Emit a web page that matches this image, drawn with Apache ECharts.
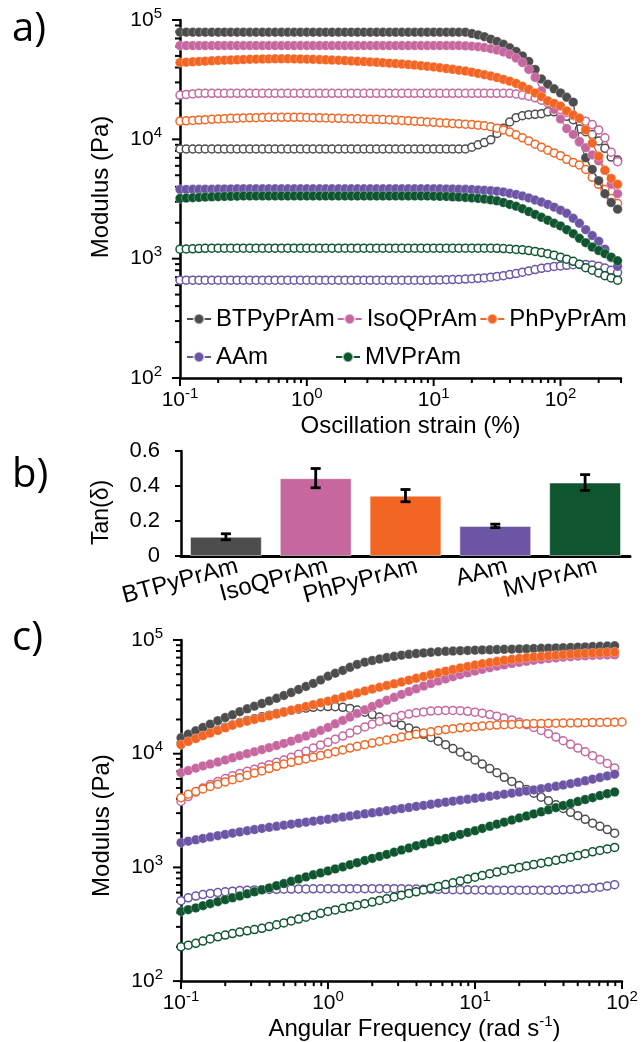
<!DOCTYPE html>
<html><head><meta charset="utf-8">
<script src="https://cdn.jsdelivr.net/npm/echarts@6/dist/echarts.min.js"></script>
<style>html,body{margin:0;padding:0;background:#fff}#c{width:643px;height:1042px}</style>
</head><body><div id="c"></div>
<script>
// ---------- data ----------
const strain = [0.1,0.112,0.126,0.141,0.158,0.178,0.2,0.224,0.251,0.282,
 0.316,0.355,0.398,0.447,0.501,0.562,0.631,0.708,0.794,0.891,
 1,1.12,1.26,1.41,1.58,1.78,2,2.24,2.51,2.82,
 3.16,3.55,3.98,4.47,5.01,5.62,6.31,7.08,7.94,8.91,
 10,11.2,12.6,14.1,15.8,17.8,20,22.4,25.1,28.2,
 31.6,35.5,39.8,44.7,50.1,56.2,63.1,70.8,79.4,89.1,
 100,112,126,141,158,178,200,224,251,282];
const freq = [0.1,0.112,0.126,0.141,0.158,0.178,0.2,0.224,0.251,0.282,
 0.316,0.355,0.398,0.447,0.501,0.562,0.631,0.708,0.794,0.891,
 1,1.12,1.26,1.41,1.58,1.78,2,2.24,2.51,2.82,
 3.16,3.55,3.98,4.47,5.01,5.62,6.31,7.08,7.94,8.91,
 10,11.2,12.6,14.1,15.8,17.8,20,22.4,25.1,28.2,
 31.6,35.5,39.8,44.7,50.1,56.2,63.1,70.8,79.4,89.1,100];

// panel a: G' (filled) and G'' (open) vs strain
const aBT1 = [79000,79000,79000,79000,79000,79000,79000,79000,79000,79000,
 79000,79000,79000,79000,79000,79000,79000,79000,79000,79000,
 79000,79000,79000,79000,79000,79000,79000,79000,79000,79000,
 79000,79000,79000,79000,79000,79000,79000,79000,79000,79000,
 79000,79000,79000,79000,79000,79000,77000,75000,72500,69000,
 66000,62500,58500,54500,50000,45000,38500,32000,29000,26500,
 24500,22500,20500,9500,7000,5600,4500,3500,2950,2600];
const aIso1 = [61000,61000,61000,61000,61000,61000,61000,61000,61000,61000,
 61000,61000,61000,61000,61000,61000,61000,61000,61000,61000,
 61000,61000,61000,61000,61000,61000,61000,61000,61000,61000,
 61000,61000,61000,61000,61000,61000,61000,61000,61000,61000,
 61000,61000,61000,61000,61000,60700,60300,59700,58800,57500,
 56000,54000,51500,48000,44000,38500,33000,25500,21000,17800,
 14800,12300,11000,9600,8500,7400,6600,5500,4200,3500];
const aPh1 = [44000,44300,44600,44900,45200,45500,45800,46000,46200,46400,
 46600,46800,47000,47100,47200,47300,47300,47300,47200,47100,
 47000,46800,46600,46400,46200,46000,45700,45400,45100,44800,
 44500,44200,43900,43500,43100,42700,42300,41900,41400,40900,
 40400,39800,39200,38600,38000,37300,36500,35700,34800,33900,
 32900,31800,30700,29400,27800,26200,24500,22800,21000,20000,
 19000,17300,16000,15000,12000,9300,7200,5500,4700,4200];
const aAAm1 = [3800,3805,3810,3815,3820,3825,3830,3835,3840,3845,
 3850,3850,3850,3850,3850,3850,3850,3850,3850,3850,
 3850,3850,3850,3850,3850,3850,3850,3850,3850,3850,
 3850,3850,3850,3850,3850,3850,3850,3850,3850,3850,
 3850,3845,3840,3830,3820,3810,3790,3770,3740,3710,
 3680,3620,3530,3450,3350,3230,3100,2980,2850,2700,
 2550,2400,2180,1980,1750,1560,1400,1200,1020,860];
const aMV1 = [3200,3220,3240,3260,3280,3300,3310,3320,3330,3340,
 3350,3350,3350,3350,3350,3350,3350,3350,3350,3350,
 3350,3350,3350,3350,3350,3350,3350,3350,3350,3350,
 3350,3350,3350,3350,3350,3350,3350,3350,3350,3350,
 3340,3330,3320,3300,3280,3260,3230,3200,3160,3110,
 3050,2950,2850,2750,2620,2480,2350,2220,2100,1980,
 1880,1750,1620,1480,1360,1250,1170,1100,1030,960];
const aBT2 = [8300,8300,8300,8300,8300,8300,8300,8300,8300,8300,
 8300,8300,8300,8300,8300,8300,8300,8300,8300,8300,
 8300,8300,8300,8300,8300,8300,8300,8300,8300,8300,
 8300,8300,8300,8300,8300,8300,8300,8300,8300,8300,
 8300,8300,8300,8300,8300,8300,8600,9000,9400,9900,
 11200,12400,14000,15200,15800,16100,16200,16400,17000,17000,
 16500,15600,14600,12200,11600,11000,9700,8400,7100,6700];
const aIso2 = [23500,23800,24000,24300,24300,24300,24300,24300,24300,24300,
 24300,24300,24300,24300,24300,24300,24300,24300,24300,24300,
 24300,24300,24300,24300,24300,24300,24300,24300,24300,24300,
 24300,24300,24300,24300,24300,24300,24300,24300,24300,24300,
 24300,24300,24300,24300,24300,24300,24300,24300,24300,24300,
 24300,24300,24300,24000,23500,23000,22300,21300,20200,19000,
 17800,16800,15800,15000,14200,13300,12000,10300,7800,6500];
const aPh2 = [14200,14300,14400,14500,14600,14700,14800,14900,15000,15050,
 15100,15150,15200,15250,15300,15300,15300,15300,15300,15300,
 15250,15200,15150,15100,15050,15000,14950,14900,14850,14800,
 14750,14700,14650,14600,14500,14400,14300,14200,14100,14000,
 13900,13800,13700,13600,13500,13400,13300,13150,13000,12750,
 12400,12000,11500,10900,10300,9700,9100,8600,8100,7700,
 7300,6800,6400,6100,5600,4800,4200,3800,3200,2900];
const aAAm2 = [660,660,660,660,660,660,660,660,660,660,
 660,660,660,660,660,660,660,660,660,660,
 660,660,660,660,660,660,660,660,660,660,
 660,660,660,660,660,660,660,660,660,660,
 662,664,666,668,670,675,680,685,690,700,
 710,720,735,750,770,790,810,830,845,860,
 870,880,890,895,895,885,865,835,800,765];
const aMV2 = [1200,1205,1210,1215,1220,1225,1225,1225,1225,1225,
 1225,1225,1225,1225,1225,1225,1225,1225,1225,1225,
 1225,1225,1225,1225,1225,1225,1225,1225,1225,1225,
 1225,1225,1225,1225,1225,1225,1225,1225,1225,1225,
 1225,1225,1225,1225,1225,1225,1225,1225,1225,1225,
 1220,1215,1205,1195,1185,1170,1150,1125,1100,1070,
 1030,990,950,900,840,800,760,720,690,660];

// panel b: tan(delta)
const tanNames = ['BTPyPrAm','IsoQPrAm','PhPyPrAm','AAm','MVPrAm'];
const tanVal = [0.11,0.445,0.345,0.172,0.42];
const tanErr = [0.017,0.055,0.035,0.01,0.045];

// panel c: G' (filled) and G'' (open) vs angular frequency
const cBT1 = [13800,14800,15900,17000,18200,19500,20800,22000,23400,24800,
 26200,27600,29100,30700,32500,34500,36700,39000,41500,44500,
 48000,51000,54000,57500,61000,63800,66000,68000,70000,71800,
 73500,74800,76000,77000,78000,78800,79500,80000,80500,80900,
 81300,81700,82000,82400,82800,83100,83400,83700,84000,84400,
 84800,85100,85500,86000,86500,87000,87500,88000,88500,89000];
const cIso1 = [6800,7100,7450,7800,8100,8450,8800,9200,9600,10000,
 10400,10850,11300,11800,12300,12900,13600,14300,15100,16000,
 17000,18300,19600,21000,22600,24300,26000,27700,29500,31300,
 33200,35200,37200,39300,41400,43500,45500,47500,49500,51400,
 53300,55200,57000,58800,60500,62100,63600,65000,66300,67500,
 68600,69600,70500,71300,72000,72600,73100,73500,73800,74000];
const cPh1 = [12000,12800,13600,14400,15200,16000,16900,17800,18600,19300,
 20000,20700,21500,22300,23200,24100,25000,26000,27000,28000,
 29000,30200,31500,32800,34200,35600,37000,38400,39800,41200,
 42700,44300,46000,47800,49600,51400,53200,55000,56800,58500,
 60200,61800,63400,64900,66300,67600,68800,69900,70900,71800,
 72700,73500,74300,75000,75700,76300,76900,77400,77900,78300];
const cAAm1 = [1650,1700,1750,1800,1850,1900,1950,2000,2050,2100,
 2150,2200,2250,2300,2350,2400,2450,2500,2550,2600,
 2650,2710,2770,2830,2900,2960,3020,3080,3150,3220,
 3290,3360,3440,3510,3590,3670,3750,3820,3900,3970,
 4050,4130,4220,4310,4400,4500,4600,4700,4800,4920,
 5040,5170,5300,5450,5600,5780,5970,6170,6380,6600];
const cMV1 = [410,425,440,460,480,500,520,540,560,585,
 610,635,660,690,720,755,790,825,860,895,
 930,970,1010,1055,1100,1150,1200,1250,1300,1360,
 1420,1480,1550,1610,1680,1740,1800,1870,1950,2030,
 2100,2200,2300,2400,2500,2610,2720,2830,2950,3080,
 3210,3350,3500,3640,3790,3950,4100,4280,4450,4600];
const cBT2 = [12300,13000,13800,14600,15400,16200,17100,17900,18800,19600,
 20300,21100,21800,22600,23300,24000,24600,25200,25600,25900,
 26000,25900,25600,25000,24200,23200,22100,21000,19900,18800,
 17800,16800,15800,14800,13900,12900,12000,11100,10300,9500,
 8800,8100,7400,6800,6200,5700,5250,4850,4500,4150,
 3850,3550,3300,3050,2850,2650,2450,2300,2150,2000];
const cIso2 = [3800,4200,4600,5000,5350,5700,6050,6400,6700,7000,
 7300,7650,8000,8400,8800,9300,9900,10500,11200,11900,
 12600,13400,14300,15200,16200,17200,18200,19200,20100,20900,
 21700,22300,22900,23300,23700,23900,24000,24000,23900,23600,
 23200,22700,22100,21400,20600,19800,18900,18000,17000,16000,
 15000,14000,13000,12100,11200,10400,9600,8900,8200,7500];
const cPh2 = [4100,4400,4650,4900,5150,5400,5650,5900,6150,6450,
 6750,7050,7400,7750,8100,8400,8700,9000,9300,9650,
 10000,10400,10800,11200,11600,12000,12400,12800,13200,13600,
 14000,14400,14800,15200,15600,16000,16300,16600,16900,17100,
 17300,17500,17700,17850,18000,18100,18200,18300,18400,18450,
 18500,18550,18600,18650,18700,18750,18800,18850,18900,18950,19000];
const cAAm2 = [510,540,560,577,590,600,610,618,625,630,
 634,637,640,642,644,645,646,647,648,649,
 650,650,650,650,650,650,650,650,650,650,
 648,646,645,643,641,640,638,637,636,635,
 634,633,632,631,630,630,630,630,630,630,
 630,632,635,640,645,652,660,670,685,705];
const cMV2 = [200,207,215,225,235,245,254,262,270,277,
 284,291,302,313,325,338,351,365,380,395,
 410,423,437,450,465,480,495,512,530,550,
 570,590,610,633,656,680,706,733,760,790,
 820,850,880,910,940,970,1000,1030,1060,1090,
 1120,1155,1190,1230,1270,1320,1370,1410,1455,1500];

// axis ticks
const majorX_A = [0.1,1,10,100];
const minorX_A = [0.2,0.3,0.4,0.5,0.6,0.7,0.8,0.9,2,3,4,5,6,7,8,9,20,30,40,50,60,70,80,90,200,300];
const majorX_C = [0.1,1,10,100];
const minorX_C = [0.2,0.3,0.4,0.5,0.6,0.7,0.8,0.9,2,3,4,5,6,7,8,9,20,30,40,50,60,70,80,90];
const majorY = [100,1000,10000,100000];
const minorY = [200,300,400,500,600,700,800,900,2000,3000,4000,5000,6000,7000,8000,9000,20000,30000,40000,50000,60000,70000,80000,90000];

// ---------- styling ----------
const FONT = "'Liberation Sans', Arial, sans-serif";
const COL = {BT:'#4d4d4d', Iso:'#c6679f', Ph:'#f36523', AAm:'#6b55a4', MV:'#0f5630'};
const barColors = [COL.BT, COL.Iso, COL.Ph, COL.AAm, COL.MV];

function pts(xs, ys){ return ys.map((y,i)=>[xs[i], y]); }
function solid(name, color, xs, ys, gi){
  return {type:'line', name, xAxisIndex:gi, yAxisIndex:gi, data:pts(xs,ys),
    symbol:'circle', symbolSize:9.5, showSymbol:true, z:3,
    lineStyle:{color, width:1.4}, itemStyle:{color, borderColor:'rgba(255,255,255,0.6)', borderWidth:0.5},
    emphasis:{disabled:true}, animation:false};
}
function open(name, color, xs, ys, gi){
  return {type:'line', name, xAxisIndex:gi, yAxisIndex:gi, data:pts(xs,ys),
    symbol:'circle', symbolSize:8, showSymbol:true, z:2,
    lineStyle:{color, width:1.2}, itemStyle:{color:'#fff', borderColor:color, borderWidth:1.5},
    emphasis:{disabled:true}, animation:false};
}
function pow10(v){
  const e = Math.log10(v), r = Math.round(e);
  if (Math.abs(e - r) > 1e-6) return '';
  return '{b|10}{s|' + r + '}';
}
const supRich = {
  b:{fontSize:21, fontFamily:FONT, color:'#000'},
  s:{fontSize:15, fontFamily:FONT, color:'#000', padding:[0,0,13,0]}
};
function tickSeries(gi, dim, vals, len, other){
  return {type:'custom', xAxisIndex:gi, yAxisIndex:gi, silent:true, clip:false, z:1,
    data: vals.map(v => dim === 'x' ? [v, other] : [other, v]),
    renderItem: function(p, api){
      const pt = api.coord([api.value(0), api.value(1)]);
      const shape = dim === 'x'
        ? {x1:pt[0], y1:pt[1], x2:pt[0], y2:pt[1] + len}
        : {x1:pt[0] - len, y1:pt[1], x2:pt[0], y2:pt[1]};
      return {type:'line', shape, style:{stroke:'#000', lineWidth:2}};
    }};
}
function logAxis(gi, min, max, name, gap, extra){
  return Object.assign({type:'log', logBase:10, gridIndex:gi, min, max,
    axisLine:{show:true, onZero:false, lineStyle:{color:'#000', width:2.5}},
    axisTick:{show:false}, minorTick:{show:false}, splitLine:{show:false}, minorSplitLine:{show:false},
    axisLabel:{formatter:pow10, rich:supRich, color:'#000'},
    name, nameLocation:'middle', nameGap:gap,
    nameTextStyle:{fontSize:24, color:'#000', fontFamily:FONT}}, extra || {});
}
const legendText = {fontSize:24, color:'#000', fontFamily:FONT};

const chart = echarts.init(document.getElementById('c'), null, {renderer:'canvas'});
const option = {
  backgroundColor:'#fff',
  animation:false,
  textStyle:{fontFamily:FONT},
  grid:[
    {left:180, top:20, width:441, height:358},
    {left:181, top:451, width:449, height:105},
    {left:181, top:640, width:441, height:350}
  ],
  xAxis:[
    logAxis(0, 0.1, 300, 'Oscillation strain (%)', 36, {
      axisLabel:{formatter:pow10, rich:supRich, margin:8},
      nameTextStyle:{fontSize:24, color:'#000', fontFamily:FONT, padding:[0,0,0,20]}}),
    {type:'category', gridIndex:1, data:tanNames,
      axisLine:{show:true, lineStyle:{color:'#000', width:3}}, axisTick:{show:false},
      axisLabel:{rotate:15, fontSize:24, margin:13, color:'#000', fontFamily:FONT, interval:0, padding:[0,-12,0,0]}},
    logAxis(2, 0.1, 100, '{t|Angular Frequency (rad s}{u|-1}{t|)}', 26, {
      nameTextStyle:{padding:[0,0,0,26], rich:{t:{fontSize:24, fontFamily:FONT, color:'#000'}, u:{fontSize:15, fontFamily:FONT, color:'#000', padding:[0,0,14,0]}}},
      axisLabel:{formatter:pow10, rich:supRich, margin:8}})
  ],
  yAxis:[
    logAxis(0, 100, 100000, 'Modulus (Pa)', 67, {axisLabel:{formatter:pow10, rich:supRich, margin:18},
      nameTextStyle:{fontSize:24, color:'#000', fontFamily:FONT, padding:[0,0,0,24]}}),
    {type:'value', gridIndex:1, min:0, max:0.6, interval:0.2,
      axisLine:{show:true, lineStyle:{color:'#000', width:2.5}},
      axisTick:{show:true, length:6, lineStyle:{color:'#000', width:2}},
      splitLine:{show:false},
      axisLabel:{fontSize:22, color:'#000', fontFamily:FONT, margin:21, formatter:v => v === 0 ? '0' : v.toFixed(1)},
      name:'Tan(δ)', nameLocation:'middle', nameGap:68,
      nameTextStyle:{fontSize:23, color:'#000', fontFamily:FONT, padding:[0,18,0,0]}},
    logAxis(2, 100, 100000, 'Modulus (Pa)', 67, {axisLabel:{formatter:pow10, rich:supRich, margin:18},
      nameTextStyle:{fontSize:24, color:'#000', fontFamily:FONT, padding:[0,30,0,0]}})
  ],
  legend:[
    {data:['BTPyPrAm','IsoQPrAm','PhPyPrAm'], left:186, top:307, padding:0, itemWidth:24, itemHeight:13, itemGap:2,
      selectedMode:false, lineStyle:{width:2}, textStyle:legendText},
    {data:['AAm','MVPrAm'], left:186, top:345, padding:0, itemWidth:24, itemHeight:13, itemGap:67,
      selectedMode:false, lineStyle:{width:2}, textStyle:legendText}
  ],
  graphic:[
    {type:'text', left:12, top:10, style:{text:'a)', font:"40px 'Open Sans'", fill:'#000'}},
    {type:'text', left:12, top:456, style:{text:'b)', font:"40px 'Open Sans'", fill:'#000'}},
    {type:'text', left:12, top:619, style:{text:'c)', font:"40px 'Open Sans'", fill:'#000'}}
  ],
  series:[
    // panel a
    solid('BTPyPrAm', COL.BT, strain, aBT1, 0),
    solid('IsoQPrAm', COL.Iso, strain, aIso1, 0),
    solid('PhPyPrAm', COL.Ph, strain, aPh1, 0),
    solid('AAm', COL.AAm, strain, aAAm1, 0),
    solid('MVPrAm', COL.MV, strain, aMV1, 0),
    open('BTPyPrAm G\u2033', COL.BT, strain, aBT2, 0),
    open('IsoQPrAm G\u2033', COL.Iso, strain, aIso2, 0),
    open('PhPyPrAm G\u2033', COL.Ph, strain, aPh2, 0),
    open('AAm G\u2033', COL.AAm, strain, aAAm2, 0),
    open('MVPrAm G\u2033', COL.MV, strain, aMV2, 0),
    tickSeries(0, 'x', majorX_A, 8, 100),
    tickSeries(0, 'x', minorX_A, 5, 100),
    tickSeries(0, 'y', majorY, 8, 0.1),
    tickSeries(0, 'y', minorY, 5, 0.1),
    // panel b
    {type:'bar', name:'tan', xAxisIndex:1, yAxisIndex:1, barWidth:'80%', animation:false,
      data: tanVal.map((v,i) => ({value:v, itemStyle:{color:barColors[i], borderColor:'rgba(255,255,255,0.5)', borderWidth:1}}))},
    {type:'custom', xAxisIndex:1, yAxisIndex:1, z:5, silent:true,
      data: tanVal.map((v,i) => [i, v, tanErr[i]]),
      encode:{x:0, y:1},
      renderItem: function(p, api){
        const x = api.value(0), v = api.value(1), e = api.value(2);
        const t = api.coord([x, v + e]), b = api.coord([x, v - e]);
        const w = 5, st = {stroke:'#000', lineWidth:2.8};
        return {type:'group', children:[
          {type:'line', shape:{x1:t[0], y1:t[1], x2:b[0], y2:b[1]}, style:st},
          {type:'line', shape:{x1:t[0]-w, y1:t[1], x2:t[0]+w, y2:t[1]}, style:st},
          {type:'line', shape:{x1:b[0]-w, y1:b[1], x2:b[0]+w, y2:b[1]}, style:st}
        ]};
      }},
    // panel c
    solid('BTPyPrAm ω', COL.BT, freq, cBT1, 2),
    solid('IsoQPrAm ω', COL.Iso, freq, cIso1, 2),
    solid('PhPyPrAm ω', COL.Ph, freq, cPh1, 2),
    solid('AAm ω', COL.AAm, freq, cAAm1, 2),
    solid('MVPrAm ω', COL.MV, freq, cMV1, 2),
    open('BTPyPrAm ω G\u2033', COL.BT, freq, cBT2, 2),
    open('IsoQPrAm ω G\u2033', COL.Iso, freq, cIso2, 2),
    open('PhPyPrAm ω G\u2033', COL.Ph, freq, cPh2, 2),
    open('AAm ω G\u2033', COL.AAm, freq, cAAm2, 2),
    open('MVPrAm ω G\u2033', COL.MV, freq, cMV2, 2),
    tickSeries(2, 'x', majorX_C, 8, 100),
    tickSeries(2, 'x', minorX_C, 5, 100),
    tickSeries(2, 'y', majorY, 8, 0.1),
    tickSeries(2, 'y', minorY, 5, 0.1)
  ]
};
chart.setOption(option);
</script>
</body></html>
